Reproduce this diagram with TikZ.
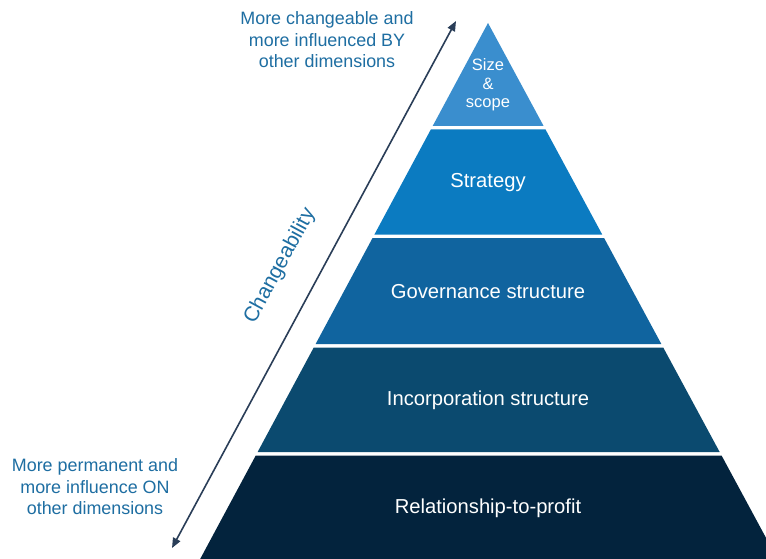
\documentclass[tikz,border=0pt]{standalone}
\usepackage{fontspec}
\setmainfont{Liberation Sans}
\usetikzlibrary{arrows.meta}
\definecolor{bandA}{HTML}{3A8ECE}
\definecolor{bandB}{HTML}{0B7BC1}
\definecolor{bandC}{HTML}{10649F}
\definecolor{bandD}{HTML}{0B4A6F}
\definecolor{bandE}{HTML}{03233D}
\definecolor{annot}{HTML}{1E6EA2}
\definecolor{arrowc}{HTML}{2A3E58}
\newcommand\pyrband[3]{%
  \fill[#3] ({488-0.537*(#1-23)},#1) -- ({488+0.540*(#1-23)},#1) --
    ({488+0.540*(#2-23)},#2) -- ({488-0.537*(#2-23)},#2) -- cycle;}
\tikzset{
  bandtext/.style={text=white, align=center, font=\fontsize{20.2}{23}\selectfont},
  annottext/.style={text=annot, align=center, font=\fontsize{17.9}{21.5}\selectfont},
  changearrow/.style={draw=arrowc, line width=1.6pt, {Triangle[length=10pt,width=8pt]}-{Triangle[length=10pt,width=8pt]}}
}
\begin{document}
\begin{tikzpicture}[x=1pt,y=-1pt]
\useasboundingbox (0,0) rectangle (766,559);
\clip (0,0) rectangle (766,559);
\fill[white] (0,0) rectangle (766,559);
\pyrband{23}{126}{bandA}
\pyrband{129.5}{234.5}{bandB}
\pyrband{238}{344}{bandC}
\pyrband{347.5}{452}{bandD}
\pyrband{455.5}{570}{bandE}
\node[bandtext, font=\fontsize{16.5}{18.5}\selectfont] (size) at (488,85) {Size\\\&\\scope};
\node[bandtext] (strategy) at (488,183) {Strategy};
\node[bandtext] (governance) at (488,292) {Governance structure};
\node[bandtext] (incorporation) at (488,400) {Incorporation structure};
\node[bandtext] (relationship) at (488,508) {Relationship-to-profit};
\coordinate (lo) at (172,548);
\coordinate (hi) at (456,21);
\draw[changearrow] (lo) -- (hi);
\node[text=annot, font=\fontsize{21}{24}\selectfont, rotate=61.6] (change) at (280,266) {Changeability};
\node[annottext] (top) at (327,40) {More changeable and\\more influenced BY\\other dimensions};
\node[annottext] (bottom) at (95,487) {More permanent and\\more influence ON\\other dimensions};
\end{tikzpicture}
\end{document}
